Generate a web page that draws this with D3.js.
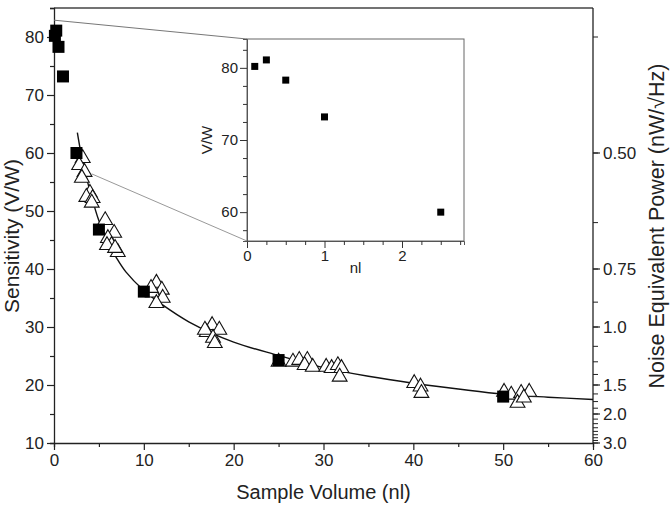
<!DOCTYPE html>
<html>
<head>
<meta charset="utf-8">
<script src="https://cdn.jsdelivr.net/npm/d3@7"></script>
<style>
  html, body { margin: 0; padding: 0; background: #fff; }
  svg text { font-family: "Liberation Sans", Arial, sans-serif; fill: #222; }
</style>
</head>
<body>
<svg id="chart" width="670" height="512"></svg>
<script>
// measured squares (filled)
var squareVol  = [0.1, 0.25, 0.5, 1, 2.5, 5, 10, 25, 50];
var squareSens = [80.2, 81.1, 78.3, 73.2, 60.0, 46.8, 36.1, 24.3, 18.0];

// open triangles
var triVol  = [3.2, 2.8, 3.4, 3.1, 4.0, 3.6, 4.3, 4.2,
               5.7, 6.7, 6.0, 6.4, 7.1, 5.9, 6.8,
               11.4, 12.0, 11.0, 12.1, 11.4, 10.8,
               17.6, 18.4, 17.0, 16.8, 17.7, 17.9,
               25.0, 26.6, 27.3, 28.2, 27.9, 28.8, 30.3, 30.9, 31.6, 32.0, 31.8,
               40.1, 40.8, 40.9,
               50.1, 50.9, 52.0, 52.9, 51.6, 52.3];
var triSens = [59.1, 57.9, 56.7, 55.7, 53.1, 52.4, 52.2, 51.4,
               48.4, 46.2, 45.3, 44.1, 42.9, 44.1, 43.6,
               37.6, 36.4, 35.9, 35.0, 34.1, 36.7,
               30.3, 29.5, 29.1, 29.5, 28.1, 27.2,
               24.0, 24.0, 24.3, 24.3, 23.4, 23.1, 23.1, 22.9, 23.4, 22.9, 21.4,
               20.3, 19.7, 18.6,
               18.8, 18.3, 18.6, 18.8, 16.9, 17.8];

// fitted curve
var fitVol  = [2.6, 3, 3.5, 4, 5, 6, 7, 8, 10, 12, 15, 20, 25, 30, 35, 40, 45, 50, 55, 60];
var fitSens = [63.5, 60, 56.5, 53.5, 48.3, 44.7, 41.8, 39.5, 36.3, 33.9, 30.9, 27.4, 25.1, 23.0, 21.5, 20.3, 19.3, 18.4, 17.9, 17.5];

// ticks
var xTicks = [0, 10, 20, 30, 40, 50, 60];
var yTicks = [10, 20, 30, 40, 50, 60, 70, 80];
var nepLabels = [0.5, 0.75, 1.0, 1.5, 2.0, 3.0];
var nepLabelText = ["0.50", "0.75", "1.0", "1.5", "2.0", "3.0"];
var insetXTicks = [0, 1, 2];
var insetYTicks = [60, 70, 80];

var svg = d3.select("#chart");

var x = d3.scaleLinear().domain([0, 60]).range([54, 593]);
var y = d3.scaleLinear().domain([10, 85]).range([443, 8]);

var AXIS = "#222";

// frame: top edge
svg.append("line").attr("x1", x(0)).attr("x2", x(60)).attr("y1", y(85)).attr("y2", y(85))
    .style("stroke", "#444").style("stroke-width", 1.3);

// bottom axis
var xAxis = svg.append("g").attr("transform", "translate(0," + y(10) + ")");
xAxis.call(d3.axisBottom(x).tickValues(d3.range(0, 61, 5)).tickSize(4).tickFormat(""));
xAxis.selectAll(".tick line").filter(function(d){ return d % 10 === 0; }).attr("y2", 7);
xAxis.append("g").call(d3.axisBottom(x).tickValues(xTicks).tickSize(0).tickPadding(11).tickFormat(d3.format("d")))
    .select(".domain").remove();

// left axis
var yAxis = svg.append("g").attr("transform", "translate(" + x(0) + ",0)");
yAxis.call(d3.axisLeft(y).tickValues(d3.range(10, 86, 5)).tickSize(4).tickFormat(""));
yAxis.selectAll(".tick line").filter(function(d){ return d % 10 === 0; }).attr("x2", -7);
yAxis.append("g").call(d3.axisLeft(y).tickValues(yTicks).tickSize(0).tickPadding(10).tickFormat(d3.format("d")))
    .select(".domain").remove();

// right axis: NEP = 30 / sensitivity
var nepMinor = d3.range(3, 25).map(function(k){ return k * 0.125; });
var rAxis = svg.append("g").attr("transform", "translate(" + x(60) + ",0)");
rAxis.append("line").attr("y1", y(85)).attr("y2", y(10)).style("stroke", AXIS).style("stroke-width", 1.3);
rAxis.selectAll(".mt").data(nepMinor).enter().append("line")
    .attr("x1", 0).attr("x2", 5)
    .attr("y1", function(d){ return y(30 / d); })
    .attr("y2", function(d){ return y(30 / d); })
    .style("stroke", AXIS).style("stroke-width", 1);
rAxis.selectAll(".lt").data(nepLabels).enter().append("line")
    .attr("x1", 0).attr("x2", 7)
    .attr("y1", function(d){ return y(30 / d); })
    .attr("y2", function(d){ return y(30 / d); })
    .style("stroke", AXIS).style("stroke-width", 1.2);
rAxis.selectAll("text").data(nepLabels).enter().append("text")
    .attr("x", 10)
    .attr("y", function(d){ return y(30 / d); })
    .attr("dy", "0.35em")
    .style("font-size", "17px")
    .text(function(d, i){ return nepLabelText[i]; });

svg.selectAll(".domain").style("stroke", AXIS).style("stroke-width", 1.3);
svg.selectAll(".tick line").style("stroke", AXIS).style("stroke-width", 1.2);
svg.selectAll(".tick text").style("font-size", "17px").style("fill", "#222");

// axis titles
svg.append("text").attr("x", x(30)).attr("y", 499).attr("text-anchor", "middle")
    .style("font-size", "20px").text("Sample Volume (nl)");
svg.append("text").attr("transform", "translate(19,236) rotate(-90)").attr("text-anchor", "middle")
    .style("font-size", "21px").text("Sensitivity (V/W)");
svg.append("text").attr("transform", "translate(664,226) rotate(-90)").attr("text-anchor", "middle")
    .style("font-size", "21.5px").text("Noise Equivalent Power (nW/\u221AHz)");

// inset scales
var ix = d3.scaleLinear().domain([0, 2.8]).range([247, 464]);
var iy = d3.scaleLinear().domain([56, 84]).range([241, 39]);

// zoom guide lines
svg.append("line").attr("x1", x(0)).attr("y1", y(82.9)).attr("x2", ix(0)).attr("y2", iy(84))
    .style("stroke", "#777").style("stroke-width", 1);
svg.append("line").attr("x1", x(4.2)).attr("y1", y(56.4)).attr("x2", ix(0)).attr("y2", iy(56))
    .style("stroke", "#999").style("stroke-width", 1);

// fit curve
var line = d3.line()
    .x(function(d, i){ return x(fitVol[i]); })
    .y(function(d, i){ return y(fitSens[i]); })
    .curve(d3.curveCatmullRom);
svg.append("path").datum(fitVol).attr("d", line)
    .style("fill", "none").style("stroke", "#111").style("stroke-width", 1.4);

// triangles
var tri = d3.symbol().type(d3.symbolTriangle).size(95);
svg.selectAll(".tri").data(triVol).enter().append("path")
    .attr("d", tri)
    .attr("transform", function(d, i){ return "translate(" + x(d) + "," + y(triSens[i]) + ")"; })
    .style("fill", "white").style("stroke", "#111").style("stroke-width", 1.1);

// squares
var sq = 12;
svg.selectAll(".sq").data(squareVol).enter().append("rect")
    .attr("x", function(d){ return x(d) - sq / 2; })
    .attr("y", function(d, i){ return y(squareSens[i]) - sq / 2; })
    .attr("width", sq).attr("height", sq)
    .style("fill", "#000");

// inset
var inset = svg.append("g");
inset.append("rect").attr("x", ix(0)).attr("y", iy(84)).attr("width", ix(2.8) - ix(0)).attr("height", iy(56) - iy(84))
    .style("fill", "white").style("stroke", "#666").style("stroke-width", 1);

var iBottom = inset.append("g").attr("transform", "translate(0," + iy(56) + ")");
iBottom.call(d3.axisBottom(ix).tickValues(d3.range(0, 2.80001, 0.25)).tickSize(4).tickFormat(""));
iBottom.selectAll(".tick line").filter(function(d){ return Math.abs(d - Math.round(d)) < 1e-6; }).attr("y2", 7);
iBottom.append("g").call(d3.axisBottom(ix).tickValues(insetXTicks).tickSize(0).tickPadding(9).tickFormat(d3.format("d")))
    .select(".domain").remove();

var iLeft = inset.append("g").attr("transform", "translate(" + ix(0) + ",0)");
iLeft.call(d3.axisLeft(iy).tickValues(d3.range(57.5, 84, 2.5)).tickSize(4).tickFormat(""));
iLeft.selectAll(".tick line").filter(function(d){ return d % 10 === 0; }).attr("x2", -7);
iLeft.append("g").call(d3.axisLeft(iy).tickValues(insetYTicks).tickSize(0).tickPadding(9).tickFormat(d3.format("d")))
    .select(".domain").remove();

inset.selectAll(".domain").style("stroke", "#555").style("stroke-width", 1);
inset.selectAll(".tick line").style("stroke", "#333").style("stroke-width", 1);
inset.selectAll(".tick text").style("font-size", "15px").style("fill", "#222");

inset.append("text").attr("x", ix(1.4)).attr("y", 273).attr("text-anchor", "middle")
    .style("font-size", "15px").text("nl");
inset.append("text").attr("transform", "translate(212,140) rotate(-90)").attr("text-anchor", "middle")
    .style("font-size", "15px").text("V/W");

var isq = 7;
inset.selectAll(".isq").data(squareVol.filter(function(d){ return d <= 2.8; })).enter().append("rect")
    .attr("x", function(d){ return ix(d) - isq / 2; })
    .attr("y", function(d, i){ return iy(squareSens[i]) - isq / 2; })
    .attr("width", isq).attr("height", isq)
    .style("fill", "#000");
</script>
</body>
</html>
